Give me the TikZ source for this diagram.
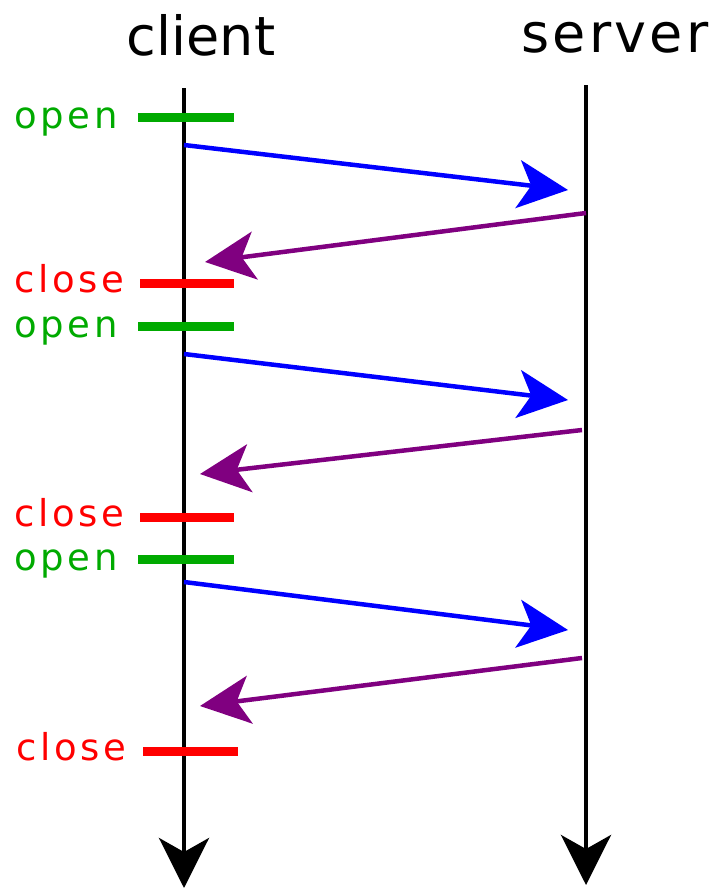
\documentclass[tikz,border=0pt]{standalone}
\usepackage{fontspec}
\setmainfont{DejaVu Sans}
\usetikzlibrary{arrows.meta}
\definecolor{opengreen}{RGB}{0,170,0}
\definecolor{closered}{RGB}{255,0,0}
\definecolor{reqblue}{RGB}{0,0,255}
\definecolor{resppurple}{RGB}{128,0,128}
\tikzset{
  lifeline/.style={line width=4.5pt, black, -{Stealth[length=50pt,width=50pt,inset=14pt]}},
  request/.style={line width=4.5pt, reqblue, -{Stealth[length=50pt,width=48pt,inset=13pt]}},
  response/.style={line width=4.5pt, resppurple, -{Stealth[length=50pt,width=48pt,inset=13pt]}},
  openbar/.style={line width=9pt, opengreen},
  closebar/.style={line width=9pt, closered},
  title/.style={inner sep=0pt, anchor=base, font=\fontsize{54}{60}\selectfont},
  openlabel/.style={inner sep=0pt, anchor=base west, text=opengreen, font=\fontsize{37}{40}\selectfont\addfontfeature{LetterSpace=10}},
  closelabel/.style={inner sep=0pt, anchor=base west, text=closered, font=\fontsize{37}{40}\selectfont\addfontfeature{LetterSpace=10}},
}
\begin{document}
\begin{tikzpicture}[x=1pt,y=-1pt]
\useasboundingbox (0,0) rectangle (711,889);
% titles
\node[title] (client) at (201,55) {client};
\node[title, font=\fontsize{54}{60}\selectfont\addfontfeature{LetterSpace=6}] (server) at (615,52) {server};
% lifelines
\coordinate (c0) at (184,88);
\coordinate (c1) at (184,888);
\coordinate (s0) at (586,85);
\coordinate (s1) at (586,885);
\draw[lifeline] (c0) -- (c1);
\draw[lifeline] (s0) -- (s1);
% open / close bars
\coordinate (o1a) at (138,117); \coordinate (o1b) at (234,117);
\coordinate (k1a) at (140,283); \coordinate (k1b) at (234,283);
\coordinate (o2a) at (138,326); \coordinate (o2b) at (234,326);
\coordinate (k2a) at (140,517); \coordinate (k2b) at (234,517);
\coordinate (o3a) at (138,559); \coordinate (o3b) at (234,559);
\coordinate (k3a) at (143,751); \coordinate (k3b) at (238,751);
\draw[openbar] (o1a) -- (o1b);
\draw[closebar] (k1a) -- (k1b);
\draw[openbar] (o2a) -- (o2b);
\draw[closebar] (k2a) -- (k2b);
\draw[openbar] (o3a) -- (o3b);
\draw[closebar] (k3a) -- (k3b);
% labels
\node[openlabel] (lo1) at (14,128) {open};
\node[closelabel] (lk1) at (14,292) {close};
\node[openlabel] (lo2) at (14,337) {open};
\node[closelabel] (lk2) at (14,526) {close};
\node[openlabel] (lo3) at (14,570) {open};
\node[closelabel] (lk3) at (16,760) {close};
% messages
\coordinate (r1a) at (184,145); \coordinate (r1b) at (568,190);
\coordinate (p1a) at (586,213); \coordinate (p1b) at (205,262);
\coordinate (r2a) at (184,354); \coordinate (r2b) at (568,400);
\coordinate (p2a) at (582,430); \coordinate (p2b) at (200,474);
\coordinate (r3a) at (184,582); \coordinate (r3b) at (568,630);
\coordinate (p3a) at (582,658); \coordinate (p3b) at (200,706);
\draw[request] (r1a) -- (r1b);
\draw[response] (p1a) -- (p1b);
\draw[request] (r2a) -- (r2b);
\draw[response] (p2a) -- (p2b);
\draw[request] (r3a) -- (r3b);
\draw[response] (p3a) -- (p3b);
\end{tikzpicture}
\end{document}
